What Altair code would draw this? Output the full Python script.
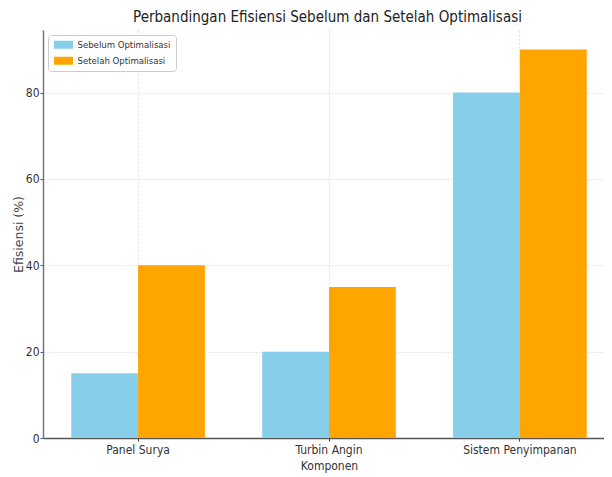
import altair as alt
import pandas as pd

categories = ["Panel Surya", "Turbin Angin", "Sistem Penyimpanan"]
series = ["Sebelum Optimalisasi", "Setelah Optimalisasi"]
sebelum = [15, 20, 80]
setelah = [40, 35, 90]
colors = ["#87CEEB", "#FFA500"]
y_ticks = [0, 20, 40, 60, 80]

rows = []
for c, a, b in zip(categories, sebelum, setelah):
    rows.append({"Komponen": c, "Seri": series[0], "Efisiensi": a})
    rows.append({"Komponen": c, "Seri": series[1], "Efisiensi": b})
df = pd.DataFrame(rows)

FONT = "DejaVu Sans Condensed"
TXT = "#333333"

chart = alt.Chart(df).mark_bar().encode(
    x=alt.X(
        "Komponen:N",
        sort=categories,
        title="Komponen",
        scale=alt.Scale(paddingInner=0.3, paddingOuter=0.148, range=[0, 572]),
        axis=alt.Axis(
            labelAngle=0, grid=True, gridColor="#d8d8d8", gridDash=[2, 2], gridWidth=0.8,
            domainColor="#555555", domainWidth=1.5, tickColor="#333333", tickSize=3,
            labelFont=FONT, labelFontSize=12, labelColor=TXT, labelPadding=3,
            titleFont=FONT, titleFontSize=12, titleFontWeight="normal", titleColor=TXT,
            titlePadding=5,
        ),
    ),
    xOffset=alt.XOffset("Seri:N", sort=series, scale=alt.Scale(paddingInner=0, paddingOuter=0)),
    y=alt.Y(
        "Efisiensi:Q",
        title="Efisiensi (%)",
        scale=alt.Scale(domain=[0, 94.5], nice=False, zero=True),
        axis=alt.Axis(
            values=y_ticks, grid=True, gridColor="#d8d8d8", gridDash=[2, 2], gridWidth=0.8,
            domainColor="#777777", domainWidth=1.5, tickColor="#555555", tickSize=3,
            labelFont=FONT, labelFontSize=12, labelColor=TXT, labelPadding=1,
            titleFont="DejaVu Sans", titleFontSize=12.5, titleFontWeight="normal",
            titleColor="#444444",
            titleAngle=270, titleAlign="center", titleBaseline="middle",
            titleX=-25, titleY=204,
        ),
    ),
    color=alt.Color(
        "Seri:N",
        sort=series,
        scale=alt.Scale(domain=series, range=colors),
        legend=alt.Legend(
            title=None, orient="none", legendX=5, legendY=5,
            symbolType="M-1,-1.05H4V1.05H-1Z", symbolSize=58, symbolStrokeWidth=0,
            symbolOpacity=1,
            labelFont=FONT, labelFontSize=9.5, labelColor=TXT, labelOffset=15,
            rowPadding=5, padding=5, cornerRadius=3,
            strokeColor="#cccccc", fillColor="white",
        ),
    ),
).properties(
    width=561,
    height=408,
    autosize="none",
    padding={"left": 35, "top": 22, "right": 0, "bottom": 39},
    title=alt.TitleParams(
        "Perbandingan Efisiensi Sebelum dan Setelah Optimalisasi",
        font=FONT, fontSize=15, fontWeight="normal", color="#222222",
        anchor="middle", dx=4, offset=5,
    ),
).configure_view(stroke=None)

chart.save("out.html", embed_options={"renderer": "svg", "actions": False})
